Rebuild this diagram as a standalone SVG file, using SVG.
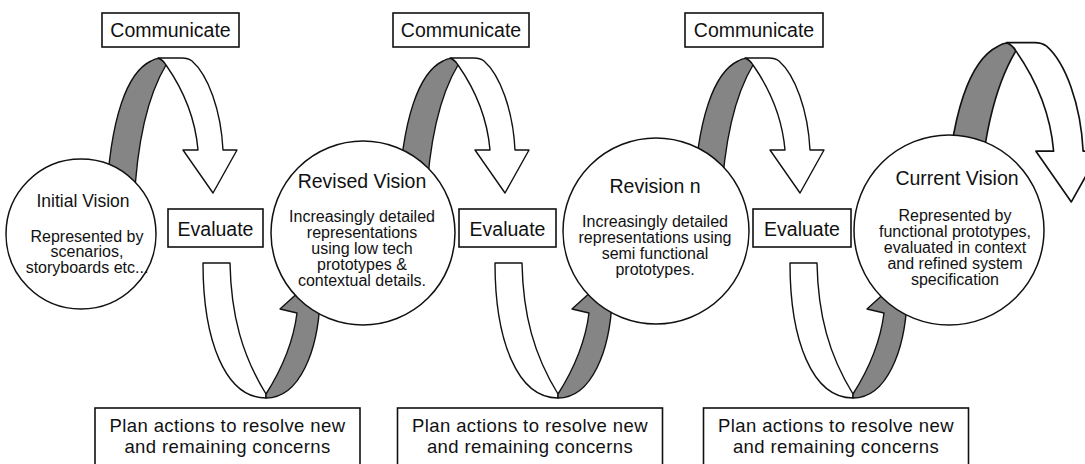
<svg xmlns="http://www.w3.org/2000/svg" xmlns:xlink="http://www.w3.org/1999/xlink" width="1085" height="464" viewBox="0 0 1085 464">
<style>
text{font-family:"Liberation Sans",Arial,sans-serif;fill:#111;text-anchor:middle}
.box{fill:#fff;stroke:#111;stroke-width:1.6}
.circ{fill:#fff;stroke:#111;stroke-width:1.5}
.gray{fill:#858585;stroke:#111;stroke-width:1.4;stroke-linejoin:round}
.white{fill:#fff;stroke:#111;stroke-width:1.4;stroke-linejoin:round}
.lbl{font-size:19.5px}
.plan{font-size:18.5px;letter-spacing:0.4px}
.title{font-size:19.5px}
.body{font-size:16px}
</style>
<defs>
<g id="arch">
<path class="gray" d="M151,61 C128,72 110,115 106,205 L134,205 C137,140 148,95 166,65 L163,59 Q157,57 151,61 Z"/>
<path class="white" d="M166,65 C180,85 195,115 198,150 L183,150 L213,193 L237,150 L223,150 C221,110 208,75 192,61 Q188,58 182,58 L158,58 Q163,60 166,65 Z"/>
</g>
<g id="ucurve">
<path class="white" d="M203,263 L230,263 C231,315 242,355 266,394 L266,398 C225,398 203,340 203,263 Z"/>
<path class="gray" d="M266,394 C280,372 293,345 297,313 L280,309 L312,280 L335,272 L320,300 C318,350 300,398 266,398 Z"/>
</g>
</defs>
<g id="connectors">
<use xlink:href="#arch"/>
<use xlink:href="#arch" transform="translate(292,0)"/>
<use xlink:href="#arch" transform="translate(587,0)"/>
<use xlink:href="#arch" transform="translate(820,-25.8) scale(1.18)"/>
<use xlink:href="#ucurve"/>
<use xlink:href="#ucurve" transform="translate(292,0)"/>
<use xlink:href="#ucurve" transform="translate(587,0)"/>
</g>
<g id="initial-vision">
<circle class="circ" cx="81" cy="234" r="75"/>
<text x="83" y="207" style="font-size:17.5px">Initial Vision</text>
<text class="body" x="87" y="241.5">Represented by</text>
<text class="body" x="87" y="257">scenarios,</text>
<text class="body" x="87" y="272.5">storyboards etc...</text>
</g>
<g id="revised-vision">
<circle class="circ" cx="363" cy="233" r="92"/>
<text class="title" x="362" y="188">Revised Vision</text>
<text class="body" x="362" y="222">Increasingly detailed</text>
<text class="body" x="362" y="238">representations</text>
<text class="body" x="362" y="254">using low tech</text>
<text class="body" x="362" y="270">prototypes &amp;</text>
<text class="body" x="362" y="286">contextual details.</text>
</g>
<g id="revision-n">
<circle class="circ" cx="656" cy="231" r="93"/>
<text class="title" x="655" y="193">Revision n</text>
<text class="body" x="655" y="227">Increasingly detailed</text>
<text class="body" x="655" y="243">representations using</text>
<text class="body" x="655" y="259">semi functional</text>
<text class="body" x="655" y="275">prototypes.</text>
</g>
<g id="current-vision">
<circle class="circ" cx="949" cy="230" r="95"/>
<text class="title" x="957" y="184.5">Current Vision</text>
<text class="body" x="955" y="221">Represented by</text>
<text class="body" x="955" y="237">functional prototypes,</text>
<text class="body" x="955" y="253">evaluated in context</text>
<text class="body" x="955" y="269">and refined system</text>
<text class="body" x="955" y="285">specification</text>
</g>
<g id="communicate-1"><rect class="box" x="102" y="13" width="137" height="34"/><text class="lbl" x="170.5" y="37">Communicate</text></g>
<g id="communicate-2"><rect class="box" x="393" y="13" width="136" height="34"/><text class="lbl" x="461" y="37">Communicate</text></g>
<g id="communicate-3"><rect class="box" x="685" y="13" width="138" height="34"/><text class="lbl" x="754" y="37">Communicate</text></g>
<g id="evaluate-1"><rect class="box" x="168" y="209" width="95" height="38"/><text class="lbl" x="215.5" y="236">Evaluate</text></g>
<g id="evaluate-2"><rect class="box" x="459" y="209" width="97" height="38"/><text class="lbl" x="507.5" y="236">Evaluate</text></g>
<g id="evaluate-3"><rect class="box" x="753" y="209" width="98" height="38"/><text class="lbl" x="802" y="236">Evaluate</text></g>
<g id="plan-1"><rect class="box" x="95" y="408" width="265" height="70"/><text class="plan" x="227.5" y="431.5">Plan actions to resolve new</text><text class="plan" x="227.5" y="452.5">and remaining concerns</text></g>
<g id="plan-2"><rect class="box" x="397.5" y="408" width="265" height="70"/><text class="plan" x="530" y="431.5">Plan actions to resolve new</text><text class="plan" x="530" y="452.5">and remaining concerns</text></g>
<g id="plan-3"><rect class="box" x="703.5" y="408" width="265" height="70"/><text class="plan" x="836" y="431.5">Plan actions to resolve new</text><text class="plan" x="836" y="452.5">and remaining concerns</text></g>
</svg>
